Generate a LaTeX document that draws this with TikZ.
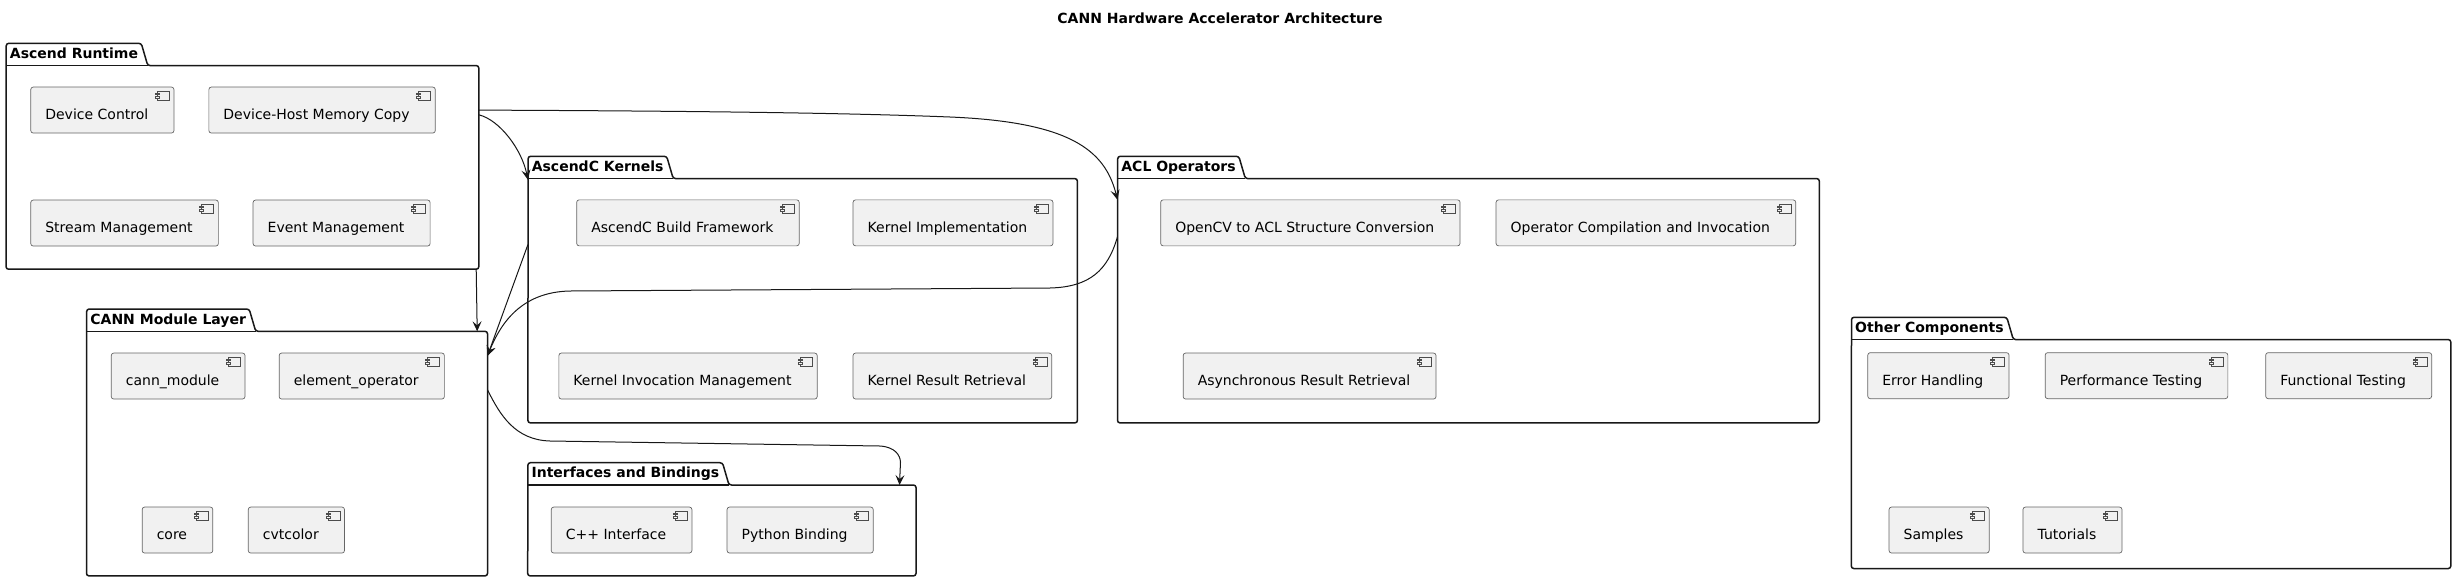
\documentclass[tikz,border=0pt]{standalone}
\usepackage{fontspec}
\setmainfont{DejaVu Sans}
\usetikzlibrary{arrows.meta,calc,fit}

\definecolor{umlline}{HTML}{181818}
\definecolor{umlfill}{HTML}{F1F1F1}

\tikzstyle{comp}=[draw=black!60,fill=umlfill,rounded corners=2.5pt,inner sep=0pt,line width=0.7pt]
\tikzstyle{icon}=[draw=black!70,fill=umlfill,line width=0.5pt]
\tikzstyle{pkgline}=[draw=umlline,line width=1.5pt,rounded corners=2.5pt]
\tikzstyle{pkglabel}=[inner sep=0pt,font=\fontsize{14}{16}\selectfont\bfseries]
\tikzstyle{conn}=[draw=umlline,line width=1pt,-{Stealth[length=10pt,width=9pt,inset=4pt]}]

% component box with its small icon
\newcommand{\cmpnt}[4]{%
  \node[comp,anchor=north west] (#1) at (#2,#3) {\hspace*{14.6pt}\rule[-13.4pt]{0pt}{46pt}#4\hspace*{25.7pt}};
  \draw[icon] ([xshift=-17pt,yshift=-5pt]#1.north east) rectangle ++(12pt,-8.5pt);
  \draw[icon] ([xshift=-19pt,yshift=-6.5pt]#1.north east) rectangle ++(4pt,-1.5pt);
  \draw[icon] ([xshift=-19pt,yshift=-10pt]#1.north east) rectangle ++(4pt,-1.5pt);
}

% package frame with its tab
\newcommand{\pkgbox}[6]{%
  \coordinate (#1-tab) at (#2,#3);
  \coordinate (#1-nw) at (#2,#3+22.5);
  \coordinate (#1-se) at (#4,#5);
  \node[fit={(#1-nw) (#1-se)},inner sep=0pt] (#1) {};
  \node[pkglabel,anchor=base west] (#1-label) at ([xshift=3.5pt,yshift=-15pt]#1-tab) {#6};
  \draw[pkgline] (#1.south west) -- (#1-tab) -- ($(#1-label.east |- #1-tab)+(3pt,0)$)
    -- ($(#1-label.east |- #1.north)+(9.5pt,0)$) -- (#1.north east) -- (#1.south east) -- cycle;
  \draw[pkgline] (#1.north west) -- ($(#1-label.east |- #1.north)+(9.5pt,0)$);
}

\begin{document}
\begin{tikzpicture}[x=1pt,y=-1pt,font=\fontsize{14}{16}\selectfont]
    \path[use as bounding box,fill=white] (0,0) rectangle (2455,582);

    \node[pkglabel,anchor=base] (title) at (1220,23.3) {CANN Hardware Accelerator Architecture};

    \pkgbox{rt}{6.25}{43.3}{478.6}{269}{Ascend Runtime}
    \cmpnt{dc}{30.4}{86.7}{Device Control}
    \cmpnt{dhmc}{208.5}{86.7}{Device-Host Memory Copy}
    \cmpnt{sm}{30.4}{199.7}{Stream Management}
    \cmpnt{em}{252.7}{199.7}{Event Management}

    \pkgbox{kern}{528.1}{156.3}{1077.2}{422.7}{AscendC Kernels}
    \cmpnt{abf}{576.3}{199.5}{AscendC Build Framework}
    \cmpnt{ki}{852.7}{199.5}{Kernel Implementation}
    \cmpnt{kim}{558.5}{352.7}{Kernel Invocation Management}
    \cmpnt{krr}{852.7}{352.7}{Kernel Result Retrieval}

    \pkgbox{acl}{1117.7}{156.3}{1819.1}{422.7}{ACL Operators}
    \cmpnt{ocv}{1160.3}{199.5}{OpenCV to ACL Structure Conversion}
    \cmpnt{oci}{1495.7}{199.5}{Operator Compilation and Invocation}
    \cmpnt{arr}{1182.8}{352.7}{Asynchronous Result Retrieval}

    \pkgbox{cann}{86.7}{309}{487.3}{575.7}{CANN Module Layer}
    \cmpnt{cm}{110.9}{352.7}{cann\_module}
    \cmpnt{eo}{278.8}{352.7}{element\_operator}
    \cmpnt{core}{141.8}{506.7}{core}
    \cmpnt{cvt}{247.9}{506.7}{cvtcolor}

    \pkgbox{intf}{527.9}{462.7}{915.8}{575.7}{Interfaces and Bindings}
    \cmpnt{cpp}{550.9}{506.7}{C++ Interface}
    \cmpnt{py}{726.7}{506.7}{Python Binding}

    \pkgbox{other}{1851.5}{317.3}{2450.6}{568.3}{Other Components}
    \cmpnt{eh}{1867.4}{352.3}{Error Handling}
    \cmpnt{pt}{2044.8}{352.3}{Performance Testing}
    \cmpnt{ft}{2265.3}{352.3}{Functional Testing}
    \cmpnt{smp}{1888.7}{506.7}{Samples}
    \cmpnt{tut}{2022.6}{506.7}{Tutorials}

    \draw[conn] ([yshift=-44.5pt]rt.north east) .. controls (700,111) and (850,113) .. (950,117)
        .. controls (1070,122) and (1105,150) .. ([yshift=-21.2pt]acl.north west);
    \draw[conn] ([yshift=-49.2pt]rt.north east) .. controls (500,120) and (522,150) .. ([yshift=-1.2pt]kern.north west);
    \draw[conn] ([xshift=-2.6pt]rt.south east) -- ([xshift=-10.3pt]cann.north east);
    \draw[conn] ([yshift=-66pt]kern.north west) -- ([yshift=-24.5pt]cann.north east);
    \draw[conn] ([yshift=-58pt]acl.north west) .. controls (1108,270) and (1090,287) .. (1050,288)
        -- (570,291) .. controls (520,292) and (500,325) .. ([yshift=-24.5pt]cann.north east);
    \draw[conn] ([yshift=-58.5pt]cann.north east) .. controls (500,415) and (515,440) .. (550,441)
        -- (880,446) .. controls (895,447) and (900,455) .. (900.5,462) -- ([xshift=-16.5pt]intf.north east);

\end{tikzpicture}
\end{document}
